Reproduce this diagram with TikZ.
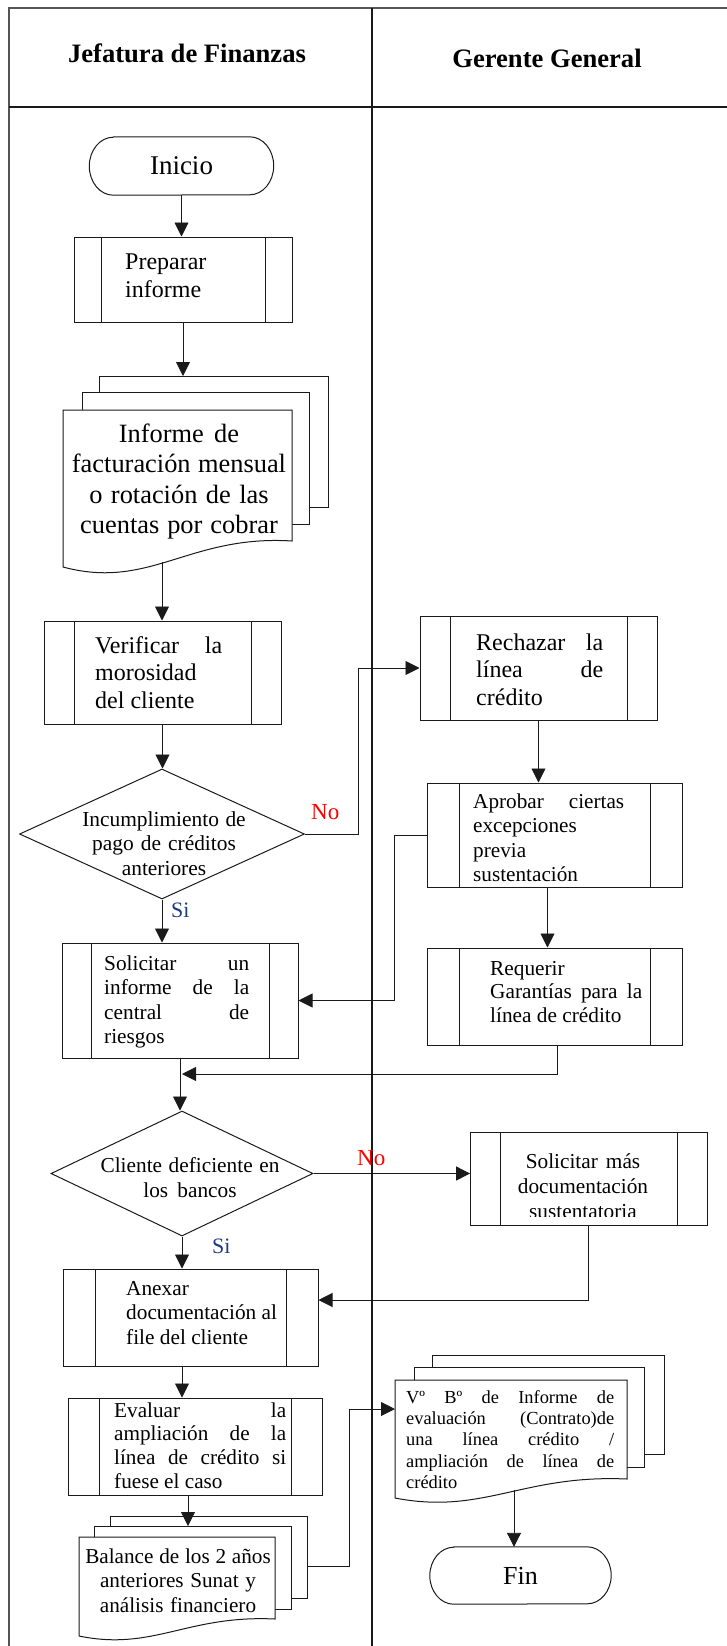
\documentclass[tikz,border=0pt]{standalone}
\usepackage{fontspec}
\setmainfont{Liberation Serif}
\usetikzlibrary{arrows.meta,shapes.geometric}
\setlength\parindent{0pt}
\newcommand\fs[2]{\fontsize{#1}{#2}\selectfont}
% first-line strut; also restores the font's own interword spacing
\newcommand\fstrut{\spaceskip=0pt\xspaceskip=0pt\rule{0pt}{0.8em}}
% terminator outline with elliptic ends: node, x radius, y radius
\newcommand\drawterm[3]{%
  \draw[linec, line width=1pt] ([xshift=#2]#1.north west) -- ([xshift=-#2]#1.north east)
    arc[start angle=90, end angle=-90, x radius=#2, y radius=#3]
    -- ([xshift=#2]#1.south west)
    arc[start angle=270, end angle=90, x radius=#2, y radius=#3] -- cycle;}
\definecolor{linec}{HTML}{1A1A1A}
\definecolor{framec}{HTML}{555555}
\definecolor{nored}{HTML}{FF0000}
\definecolor{siblue}{HTML}{1F3A82}

\begin{document}
\begin{tikzpicture}[x=1pt,y=-1pt,
  procbox/.style={draw=linec, line width=1pt, rectangle, inner sep=0pt, path picture={
     \draw[linec, line width=1pt] ([xshift=#1]path picture bounding box.north west) -- ([xshift=#1]path picture bounding box.south west);
     \draw[linec, line width=1pt] ([xshift=-#1]path picture bounding box.north east) -- ([xshift=-#1]path picture bounding box.south east);}},
  procbox/.default=30pt,
  decision/.style={draw=linec, line width=1pt, diamond, inner sep=0pt},
  termnode/.style={inner sep=0pt, rectangle},
  sheet/.style={draw=linec, line width=1pt, fill=white},
  conn/.style={draw=linec, line width=0.9pt},
  arr/.style={conn, -{Triangle[length=14pt,width=14pt]}},
  txt/.style={inner sep=0pt, anchor=north west, align=left},
  ctxt/.style={inner sep=0pt, anchor=north, align=center},
  lbl/.style={inner sep=0pt, anchor=base west},
  hdr/.style={inner sep=0pt, anchor=base, font=\fs{26.6}{30}\bfseries},
]
\useasboundingbox (0,0) rectangle (727,1646);

% swimlane frame
\draw[framec, line width=1.6pt] (9,1646) -- (9,8) -- (727,8);
\draw[linec, line width=2pt] (9,107) -- (727,107);
\draw[linec, line width=2.2pt] (372,8) -- (372,1646);
\node[hdr] (hdr1) at (187,63) {Jefatura de Finanzas};
\node[hdr] (hdr2) at (547,67.5) {Gerente General};

% start
\node[termnode, minimum width=184pt, minimum height=58pt, font=\fs{27}{30}] (inicio) at (181.5,166) {Inicio};
\drawterm{inicio}{24pt}{29pt}

\node[procbox=27pt, minimum width=218pt, minimum height=85pt] (prep) at (183,279.5) {};
\node[txt, text width=140pt, font=\fs{24}{28}] (prep-t) at (125,249.8) {\fstrut Preparar\\informe};

% stacked report
\draw[sheet] (99,376) rectangle (328,507);
\draw[sheet] (82,392) rectangle (309,524);
\draw[sheet] (63,410) -- (292,410) -- (292,541) .. controls (189,534.5) and (150,590.4) .. (63,567) -- cycle;
\node[ctxt, text width=240pt, font=\fs{26.4}{30.5}] (doc1-t) at (179,420.9) {\fstrut Informe de\\facturación mensual\\o rotación de las\\cuentas por cobrar};
\coordinate (doc1-in) at (183,376);
\coordinate (doc1-out) at (162,562);

\node[procbox=30pt, minimum width=237pt, minimum height=103pt] (verif) at (162.5,672.5) {};
\node[txt, text width=127pt, font=\fs{24}{27.5}] (verif-t) at (95,633.8) {\fstrut Verificar\hfill la\\morosidad\\del cliente};

\node[decision, minimum width=285pt, minimum height=130pt] (dec1) at (162,834) {};
\node[ctxt, text width=200pt, font=\fs{21.4}{24.5}] (dec1-t) at (164,808.9) {\fstrut Incumplimiento de\\pago de créditos\\anteriores};
\node[lbl, text=nored, font=\fs{23}{26}] (no1) at (311,819) {No};

\node[procbox=30pt, minimum width=237pt, minimum height=104pt] (rech) at (538.5,668) {};
\node[txt, text width=127pt, font=\fs{24}{27.5}] (rech-t) at (476,630.8) {\fstrut Rechazar\hfill la\\línea\hfill de\\crédito};

\node[procbox=32pt, minimum width=255pt, minimum height=104pt] (aprob) at (554.5,835) {};
\node[txt, text width=151pt, font=\fs{21.2}{24.5}] (aprob-t) at (473,791) {\fstrut Aprobar\hfill ciertas\\excepciones\\previa\\sustentación};

\node[procbox=32pt, minimum width=255pt, minimum height=97pt] (req) at (554.5,996.5) {};
\node[txt, text width=152pt, font=\fs{21.3}{23.5}] (req-t) at (490,958) {\fstrut Requerir\\Garantías\hfill para\hfill la\\línea de crédito};

\node[lbl, text=siblue, font=\fs{22}{25}] (si1) at (171,917) {Si};

\node[procbox=29pt, minimum width=236pt, minimum height=115pt] (sol) at (180,1000.5) {};
\node[txt, text width=145pt, font=\fs{21.3}{24.5}] (sol-t) at (104,953) {\fstrut Solicitar\hfill un\\informe\hfill de\hfill la\\central\hfill de\\riesgos};

\coordinate (merge) at (182,1074);

\node[decision, minimum width=262pt, minimum height=125pt] (dec2) at (182,1173.5) {};
\node[ctxt, text width=220pt, font=\fs{21.3}{25}] (dec2-t) at (190,1155) {\fstrut Cliente deficiente en\\los bancos};
\node[lbl, text=nored, font=\fs{23}{26}] (no2) at (357,1165) {No};
\node[lbl, text=siblue, font=\fs{22}{25}] (si2) at (212,1253) {Si};

\node[procbox=30pt, minimum width=236.4pt, minimum height=93pt] (smas) at (588.8,1178.5) {};
\begin{scope}
  % the last line is cut off by the text frame
  \clip (smas.north west) rectangle ([yshift=9pt]smas.south east);
  \node[ctxt, text width=200pt, font=\fs{21.3}{25}] (smas-t) at (583,1151) {\fstrut Solicitar más\\documentación\\sustentatoria};
\end{scope}

\node[procbox=32pt, minimum width=255pt, minimum height=97pt] (anex) at (190.5,1317.5) {};
\node[txt, text width=165pt, font=\fs{21.3}{24.5}] (anex-t) at (126,1278) {\fstrut Anexar\\documentación al\\file del cliente};

\node[procbox=31pt, minimum width=254pt, minimum height=97pt] (eval) at (195,1446.5) {};
\node[txt, text width=172pt, font=\fs{21.2}{23.7}] (eval-t) at (114,1400) {\fstrut Evaluar\hfill la\\ampliación\hfill de\hfill la\\línea\hfill de\hfill crédito\hfill si\\fuese el caso};

% stacked balance sheets
\draw[sheet] (110,1516) rectangle (307,1598);
\draw[sheet] (94.6,1526) rectangle (291,1609);
\draw[sheet] (79,1537) -- (275,1537) -- (275,1619) .. controls (186.8,1614.75) and (153.5,1651.3) .. (79,1636) -- cycle;
\node[ctxt, text width=200pt, font=\fs{21.2}{24.5}] (doc3-t) at (178,1546) {\fstrut Balance de los 2 años\\anteriores Sunat y\\análisis financiero};
\coordinate (doc3-in) at (188,1526);
\coordinate (doc3-out) at (307,1566);

% stacked approval report
\draw[sheet] (432,1355) rectangle (664,1454);
\draw[sheet] (414,1367) rectangle (644,1467);
\draw[sheet] (395,1380) -- (627,1380) -- (627,1479) .. controls (522.6,1474.25) and (483.2,1515.1) .. (395,1498) -- cycle;
\node[txt, text width=208pt, font=\fs{18.4}{21.3}] (doc2-t) at (406,1388.3) {\fstrut Vº\hfill Bº\hfill de\hfill Informe\hfill de\\evaluación\hfill (Contrato)de\\una\hfill línea\hfill crédito\hfill /\\ampliación\hfill de\hfill línea\hfill de\\crédito};
\coordinate (doc2-in) at (395,1409);
\coordinate (doc2-out) at (514,1490);

% end
\node[termnode, minimum width=181pt, minimum height=57pt, font=\fs{26}{29}] (fin) at (520.5,1575.5) {Fin};
\drawterm{fin}{24pt}{28.5pt}

% bend points
\coordinate (j1) at (358,834);
\coordinate (j2) at (394.7,835);
\coordinate (j3) at (583,1300);
\coordinate (j4) at (349,1566);

% connectors
\draw[arr] (inicio.south) -- (inicio.south |- prep.north);
\draw[arr] (prep.south -| doc1-in) -- (doc1-in);
\draw[arr] (doc1-out) -- (doc1-out |- verif.north);
\draw[arr] (verif.south) -- (verif.south |- dec1.north);
\draw[arr] (dec1.east) -| (j1 |- rech.west) -- (rech.west);
\draw[arr] (rech.south) -- (rech.south |- aprob.north);
\draw[arr] ([xshift=-7pt]aprob.south) -- ([xshift=-7pt]aprob.south |- req.north);
\draw[arr] (aprob.west) -| (j2 |- sol.east) -- (sol.east);
\draw[arr] ([xshift=2.5pt]req.south) |- (merge);
\draw[arr] (dec1.south) -- (dec1.south |- sol.north);
\draw[arr] (sol.south) -- (sol.south |- dec2.north);
\draw[arr] (dec2.east) -- (dec2.east -| smas.west);
\draw[arr] (smas.south) |- (j3 -| anex.east);
\draw[arr] (dec2.south) -- (dec2.south |- anex.north);
\draw[arr] (dec2.south |- anex.south) -- (dec2.south |- eval.north);
\draw[arr] (eval.south -| doc3-in) -- (doc3-in);
\draw[arr] (doc3-out) -| (j4 |- doc2-in) -- (doc2-in);
\draw[arr] (doc2-out) -- (doc2-out |- fin.north);
\end{tikzpicture}
\end{document}
